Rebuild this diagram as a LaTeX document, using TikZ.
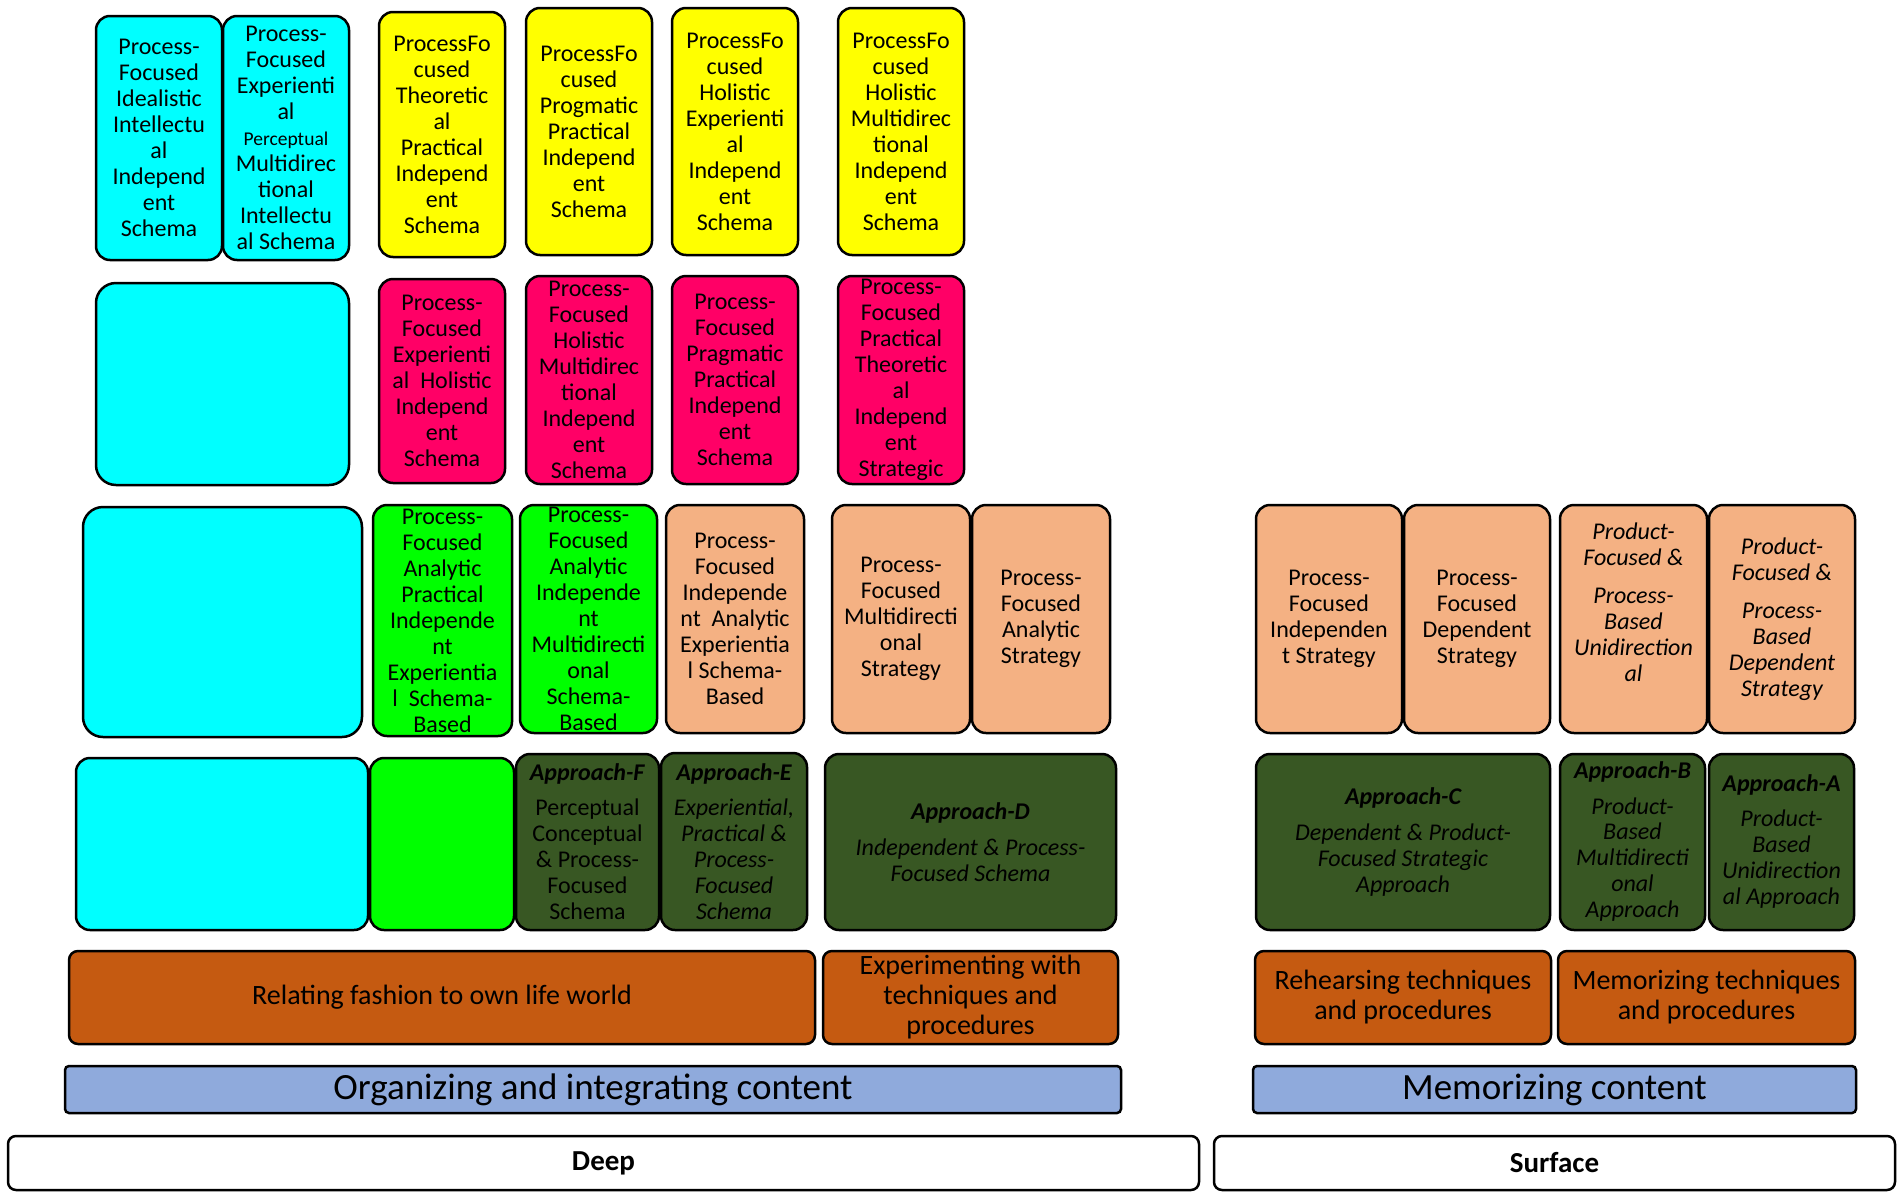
\documentclass[tikz,border=0pt]{standalone}
\usepackage{fontspec}
\setmainfont{Carlito}
\definecolor{cyanc}{HTML}{00FFFF}
\definecolor{yelc}{HTML}{FFFF00}
\definecolor{pinkc}{HTML}{FF0066}
\definecolor{greenc}{HTML}{00FF00}
\definecolor{peachc}{HTML}{F4B183}
\definecolor{darkc}{HTML}{385723}
\definecolor{orangec}{HTML}{C55A11}
\definecolor{bluec}{HTML}{8FAADC}
\newcommand\Bx[8]{%
  \node[box,#2,minimum width={(#6-#4)*1pt},minimum height={(#7-#5)*1pt}] (#1) at ({(#4+#6)/2},{(#5+#7)/2}) {};
  \node[txt,#3] (#1t) at (#1.center) {#8};}
\begin{document}
\begin{tikzpicture}[x=1pt,y=-1pt,
  box/.style={draw=black,line width=2.5pt,rounded corners=14pt,inner sep=0pt,outer sep=0pt},
  txt/.style={align=center,font=\fontsize{24}{26}\selectfont,inner sep=0pt},
  bar/.style={box,rounded corners=9pt},
  it/.style={font=\fontsize{24}{26}\selectfont\itshape},
  big/.style={font=\fontsize{28}{30}\selectfont},
  huge/.style={font=\fontsize{37}{40}\selectfont},
  lvl/.style={font=\fontsize{29}{32}\selectfont\bfseries}]
\useasboundingbox (0,0) rectangle (1899,1192);
% row 1
\Bx{c1}{fill=cyanc}{}{96}{16}{222}{260}{Process-\\Focused\\Idealistic\\Intellectu\\al\\Independ\\ent\\Schema}
\Bx{c2}{fill=cyanc}{}{223}{16}{349}{260}{Process-\\Focused\\Experienti\\al\\{\fontsize{19.5}{26}\selectfont Perceptual}\\Multidirec\\tional\\Intellectu\\al Schema}
\Bx{y1}{fill=yelc}{}{379}{12}{505}{257}{ProcessFo\\cused\\Theoretic\\al\\Practical\\Independ\\ent\\Schema}
\Bx{y2}{fill=yelc}{}{526}{8}{652}{255}{ProcessFo\\cused\\Progmatic\\Practical\\Independ\\ent\\Schema}
\Bx{y3}{fill=yelc}{}{672}{8}{798}{255}{ProcessFo\\cused\\Holistic\\Experienti\\al\\Independ\\ent\\Schema}
\Bx{y4}{fill=yelc}{}{838}{8}{964}{255}{ProcessFo\\cused\\Holistic\\Multidirec\\tional\\Independ\\ent\\Schema}
% row 2
\Bx{c3}{fill=cyanc,rounded corners=20pt}{}{96}{283}{349}{485}{}
\Bx{p1}{fill=pinkc}{}{379}{279}{505}{483}{Process-\\Focused\\Experienti\\al~ Holistic\\Independ\\ent\\Schema}
\Bx{p2}{fill=pinkc}{}{526}{276}{652}{484}{Process-\\Focused\\Holistic\\Multidirec\\tional\\Independ\\ent\\Schema}
\Bx{p3}{fill=pinkc}{}{672}{276}{798}{484}{Process-\\Focused\\Pragmatic\\Practical\\Independ\\ent\\Schema}
\Bx{p4}{fill=pinkc}{}{838}{276}{964}{484}{Process-\\Focused\\Practical\\Theoretic\\al\\Independ\\ent\\Strategic}
% row 3
\Bx{c4}{fill=cyanc,rounded corners=20pt}{}{83}{507}{362}{737}{}
\Bx{g1}{fill=greenc}{}{373}{505}{512}{736}{Process-\\Focused\\Analytic\\Practical\\Independe\\nt\\Experientia\\l~ Schema-\\Based}
\Bx{g2}{fill=greenc}{}{520}{505}{657}{733}{Process-\\Focused\\Analytic\\Independe\\nt\\Multidirecti\\onal\\Schema-\\Based}
\Bx{d1}{fill=peachc}{}{666}{505}{804}{733}{Process-\\Focused\\Independe\\nt~ Analytic\\Experientia\\l Schema-\\Based}
\Bx{d2}{fill=peachc}{}{832}{505}{970}{733}{Process-\\Focused\\Multidirecti\\onal\\Strategy}
\Bx{d3}{fill=peachc}{}{972}{505}{1110}{733}{Process-\\Focused\\Analytic\\Strategy}
\Bx{s1}{fill=peachc}{}{1256}{505}{1402}{733}{Process-\\Focused\\Independen\\t Strategy}
\Bx{s2}{fill=peachc}{}{1404}{505}{1550}{733}{Process-\\Focused\\Dependent\\Strategy}
\Bx{s3}{fill=peachc}{it,yshift=17pt}{1560}{505}{1707}{733}{Product-\\Focused \&\\[12pt]Process-\\Based\\Unidirection\\al}
\Bx{s4}{fill=peachc}{it}{1709}{505}{1855}{733}{Product-\\Focused \&\\[12pt]Process-\\Based\\Dependent\\Strategy}
% row 4
\Bx{c5}{fill=cyanc}{}{76}{758}{368}{930}{}
\Bx{g3}{fill=greenc}{}{370}{758}{514}{930}{}
\Bx{aF}{fill=darkc}{}{516}{754}{659}{930}{\textbf{\textit{Approach-F}}\\[9pt]Perceptual\\Conceptual\\\& Process-\\Focused\\Schema}
\Bx{aE}{fill=darkc}{it}{661}{753}{807}{930}{\textbf{Approach-E}\\[9pt]Experiential,\\Practical \&\\Process-\\Focused\\Schema}
\Bx{aD}{fill=darkc}{it}{825}{754}{1116}{930}{\textbf{Approach-D}\\[10pt]Independent \& Process-\\Focused Schema}
\Bx{aC}{fill=darkc}{it}{1256}{754}{1550}{930}{\textbf{Approach-C}\\[10pt]Dependent \& Product-\\Focused Strategic\\Approach}
\Bx{aB}{fill=darkc}{it}{1560}{754}{1705}{930}{\textbf{Approach-B}\\[9pt]Product-\\Based\\Multidirecti\\onal\\Approach}
\Bx{aA}{fill=darkc}{it}{1709}{754}{1854}{930}{\textbf{Approach-A}\\[9pt]Product-\\Based\\Unidirection\\al Approach}
% row 5 orange
\Bx{o1}{bar,fill=orangec}{big}{69}{951}{815}{1044}{Relating fashion to own life world}
\Bx{o2}{bar,fill=orangec}{big}{823}{951}{1118}{1044}{Experimenting with\\techniques and\\procedures}
\Bx{o3}{bar,fill=orangec}{big}{1255}{951}{1551}{1044}{Rehearsing techniques\\and procedures}
\Bx{o4}{bar,fill=orangec}{big}{1558}{951}{1855}{1044}{Memorizing techniques\\and procedures}
% row 6 blue
\Bx{b1}{bar,rounded corners=4pt,fill=bluec}{huge}{65}{1066}{1121}{1113}{Organizing and integrating content}
\Bx{b2}{bar,rounded corners=4pt,fill=bluec}{huge}{1253}{1066}{1856}{1113}{Memorizing content}
% row 7
\Bx{deep}{bar,rounded corners=8pt,fill=white}{lvl}{8}{1136}{1199}{1190}{Deep}
\Bx{surf}{bar,rounded corners=8pt,fill=white}{lvl}{1214}{1136}{1895}{1190}{Surface}
\end{tikzpicture}
\end{document}
